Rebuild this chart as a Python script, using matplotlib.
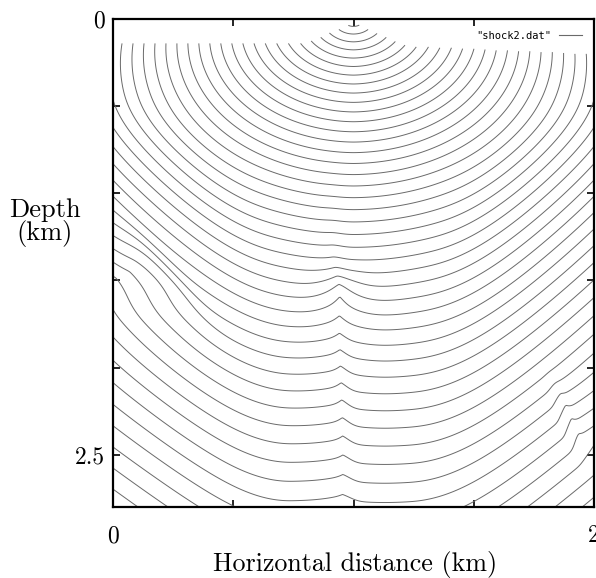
import numpy as np
import matplotlib
matplotlib.use("Agg")
import matplotlib.pyplot as plt

# ---------------- data: velocity model ----------
x_extent = [0.0, 2.0]          # km
z_extent = [0.0, 2.8]          # km (depth)
source_xz = [1.0, 0.0]
v_top = 1.0                    # relative velocity at surface
v_grad = 0.6                   # relative increase per km
# velocity anomalies: centre x, centre z, half-length, half-width, tilt (deg),
# relative velocity change, edge sharpness
anom_x = [0.95, 0.965, 0.22, 1.88, 0.00]
anom_z = [1.50, 2.15, 1.42, 2.30, 2.30]
anom_ra = [0.10, 0.65, 0.36, 0.25, 0.50]
anom_rb = [0.12, 0.035, 0.05, 0.04, 0.60]
anom_tilt = [0.0, 88.0, 58.0, 75.0, 0.0]
anom_dv = [-0.40, -0.30, -0.60, -0.50, 0.15]
anom_sharp = [1.0, 1.0, 1.5, 2.0, 1.0]
contour_step = 0.042           # time between wavefronts
n_fronts = 70
# top cut of the drawn field (gnuplot grid edge)
cut_x = [0.0, 1.0, 2.0]
cut_z = [0.14, 0.14, 0.20]

x_ticks = [0.0, 0.5, 1.0, 1.5, 2.0]
x_ticklabels = ["0", "", "", "", "2"]
y_ticks = [0.0, 0.5, 1.0, 1.5, 2.0, 2.5]
y_ticklabels = ["0", "", "", "", "", "2.5"]

# ---------------- eikonal solve (fast sweeping) --------------------------------
h = 0.005
xs = np.arange(x_extent[0], x_extent[1] + h / 2, h)
zs = np.arange(z_extent[0], z_extent[1] + h / 2, h)
X, Z = np.meshgrid(xs, zs)
V = v_top * (1 + v_grad * Z)
for x0, z0, ra, rb, tl, dv, p in zip(anom_x, anom_z, anom_ra, anom_rb,
                                      anom_tilt, anom_dv, anom_sharp):
    c, s = np.cos(np.radians(tl)), np.sin(np.radians(tl))
    u = ((X - x0) * c + (Z - z0) * s) / ra
    w = (-(X - x0) * s + (Z - z0) * c) / rb
    V = V * (1 + dv * np.exp(-(u * u + w * w) ** p))
F = h / V

R = np.hypot(X - source_xz[0], Z - source_xz[1])
g = v_top * v_grad
T0 = np.arccosh(1 + g ** 2 * R ** 2 / (2 * v_top * v_top * (1 + v_grad * Z))) / g
T = np.full(X.shape, np.inf)
near = R < 0.08
T[near] = T0[near]

nz, nx = T.shape
Tp = np.full((nz + 2, nx + 2), np.inf)
Tp[1:-1, 1:-1] = T
Fp = np.ones((nz + 2, nx + 2))
Fp[1:-1, 1:-1] = F


def godunov(a, b, f):
    m = np.minimum(a, b)
    with np.errstate(invalid="ignore"):
        d = np.abs(a - b)
        t2 = 0.5 * (a + b + np.sqrt(np.maximum(2 * f * f - d * d, 0)))
        res = np.where(d >= f, m + f, t2)
    return np.where(np.isfinite(m), res, np.inf)


for it in range(40):
    old = Tp.copy()
    for order in (range(1, nz + 1), range(nz, 0, -1)):
        for i in order:
            a = np.minimum(Tp[i - 1, 1:-1], Tp[i + 1, 1:-1])
            b = np.minimum(Tp[i, :-2], Tp[i, 2:])
            Tp[i, 1:-1] = np.minimum(Tp[i, 1:-1], godunov(a, b, Fp[i, 1:-1]))
    for order in (range(1, nx + 1), range(nx, 0, -1)):
        for j in order:
            a = np.minimum(Tp[1:-1, j - 1], Tp[1:-1, j + 1])
            b = np.minimum(Tp[:-2, j], Tp[2:, j])
            Tp[1:-1, j] = np.minimum(Tp[1:-1, j], godunov(a, b, Fp[1:-1, j]))
    diff = np.nanmax(np.abs(np.where(np.isfinite(old), old - Tp, 0)))
    if it > 3 and diff < 1e-10:
        break
T = Tp[1:-1, 1:-1]

zcut = np.minimum(0.6 * np.abs(X - source_xz[0]) + 0.02, np.interp(X, cut_x, cut_z))
Tm = np.ma.masked_where(Z < zcut, T)
levels = contour_step * np.arange(1, n_fronts)

# ---------------- plot ----------------------------------------------------------
fig = plt.figure(figsize=(5.96, 5.78), dpi=100)
ax = fig.add_axes([113 / 596, 71 / 578, 481 / 596, 488 / 578])
ax.contour(X, Z, Tm, levels=levels, colors="#6a6a6a", linewidths=0.7)
ax.set_xlim(0, 2)
ax.set_ylim(2.8, 0)
ax.set_xticks(x_ticks)
ax.set_xticklabels(x_ticklabels)
ax.set_yticks(y_ticks)
ax.set_yticklabels(y_ticklabels)
ax.tick_params(direction="in", length=5, width=1.2, top=True, right=True,
               labelsize=17)
ax.tick_params(axis="y", pad=6)
ax.tick_params(axis="x", pad=13)
for lab in ax.get_xticklabels() + ax.get_yticklabels():
    lab.set_fontfamily("cmr10")
for s in ax.spines.values():
    s.set_linewidth(1.6)

ax.plot([], [], color="#6a6a6a", lw=0.8, label='"shock2.dat"')
leg = ax.legend(loc="upper right", frameon=False, markerfirst=False,
                prop={"family": "DejaVu Sans Mono", "size": 7.5},
                handlelength=2.2, borderaxespad=0.75)

fig.text(45 / 596, 1 - 217 / 578, "Depth", ha="center", va="baseline",
         fontsize=19, fontfamily="cmr10")
fig.text(45 / 596, 1 - 240 / 578, "(km)", ha="center", va="baseline",
         fontsize=19, fontfamily="cmr10")
fig.text(355 / 596, 1 - 571 / 578, "Horizontal distance (km)", ha="center",
         va="baseline", fontsize=18.7, fontfamily="cmr10")

fig.savefig("out.png", dpi=100)
